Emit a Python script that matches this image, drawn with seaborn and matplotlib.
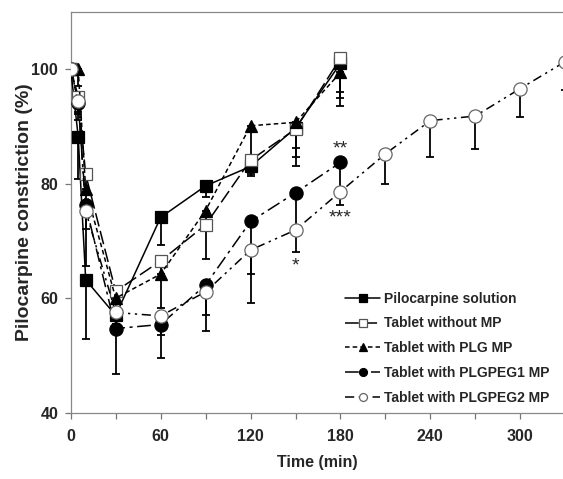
import matplotlib
matplotlib.use("Agg")
import matplotlib.pyplot as plt
import seaborn as sns
import numpy as np
import pandas as pd

# time points (min)
t_short = [0, 5, 10, 30, 60, 90, 120, 150, 180]
t_long = [0, 5, 10, 30, 60, 90, 120, 150, 180, 210, 240, 270, 300, 330]

# mean constriction (%) and lower error (SD)
pilo = [100, 88.2, 63.2, 57.0, 74.1, 79.6, 83.0, 89.7, 101.0]
pilo_err = [0, 7.4, 10.4, 1.5, 4.8, 1.9, 1.6, 6.6, 5.0]
no_mp = [100, 95.2, 81.6, 61.2, 66.5, 72.8, 84.1, 89.5, 101.9]
no_mp_err = [0, 3.0, 3.0, 2.0, 3.0, 6.0, 2.0, 3.3, 8.4]
plg = [100, 100, 79.0, 60.0, 64.2, 75.3, 90.1, 90.7, 99.4]
plg_err = [0, 3.0, 3.0, 2.0, 6.0, 3.0, 8.5, 6.0, 4.5]
peg1 = [100, 94.1, 76.2, 54.7, 55.4, 62.3, 73.4, 78.4, 83.7]
peg1_err = [0, 3.0, 10.5, 8.0, 5.8, 8.1, 14.3, 6.5, 5.5]
peg2 = [100, 94.5, 75.2, 57.5, 56.9, 61.1, 68.4, 71.9, 78.6, 85.2, 91.0, 91.8, 96.6, 101.3]
peg2_err = [0, 2.0, 3.2, 2.0, 3.4, 4.1, 4.1, 3.8, 2.3, 5.3, 6.4, 5.8, 4.9, 5.0]

labels = ["Pilocarpine solution", "Tablet without MP", "Tablet with PLG MP",
          "Tablet with PLGPEG1 MP", "Tablet with PLGPEG2 MP"]

sns.set_theme(style="ticks")
plt.rcParams['font.family'] = ['Liberation Sans', 'DejaVu Sans']
plt.rcParams['font.weight'] = 'bold'

fig = plt.figure(figsize=(5.63, 4.79), dpi=100)
ax = fig.add_axes([0.1256, 0.1384, 0.8744, 0.837])

series = [
    (t_short, pilo, pilo_err, labels[0], 's', 'black', 'black', '-', 9),
    (t_short, no_mp, no_mp_err, labels[1], 's', 'white', '#555555', (0, (9, 3)), 9),
    (t_short, plg, plg_err, labels[2], '^', 'black', 'black', (0, (3, 2)), 9),
    (t_short, peg1, peg1_err, labels[3], 'o', 'black', 'black', (0, (9, 3, 2, 3)), 9.5),
    (t_long, peg2, peg2_err, labels[4], 'o', 'white', '#666666', (0, (6, 3, 1.5, 3, 1.5, 3)), 9.5),
]

for t, y, err, lab, mk, fc, ec, ls, ms in series:
    ax.errorbar(t, y, yerr=[err, np.zeros(len(err))], fmt='none', ecolor='black',
                elinewidth=1.3, capsize=3, capthick=1.3, zorder=2)
    df = pd.DataFrame({'time': t, 'value': y})
    sns.lineplot(data=df, x='time', y='value', ax=ax, color='black', linestyle=ls,
                 linewidth=1.1, marker=mk, markersize=ms, markerfacecolor=fc,
                 markeredgecolor=ec, markeredgewidth=0.9, label=lab, zorder=3)

# significance marks
ax.text(180, 86.0, '**', ha='center', va='center', fontsize=14, fontweight='normal')
ax.text(180, 74.0, '***', ha='center', va='center', fontsize=14, fontweight='normal')
ax.text(150, 65.6, '*', ha='center', va='center', fontsize=14, fontweight='normal')

ax.set_xlim(0, 328.5)
ax.set_ylim(40, 110)
ax.set_xticks([0, 60, 120, 180, 240, 300])
ax.set_xticks([30, 90, 150, 210, 270], minor=True)
ax.set_yticks([40, 60, 80, 100])
ax.tick_params(axis='both', which='both', direction='out', length=4, width=0.9,
               color='#777777', labelsize=11.5)
ax.tick_params(axis='x', pad=8)
ax.tick_params(axis='y', pad=5)
for lab in ax.get_xticklabels() + ax.get_yticklabels():
    lab.set_fontweight('bold')

for side in ['left', 'bottom', 'top']:
    ax.spines[side].set_color('#888888')
    ax.spines[side].set_linewidth(0.9)
ax.spines['right'].set_visible(False)

ax.set_xlabel('Time (min)', fontsize=11.5, fontweight='bold', labelpad=8)
ax.set_ylabel('Pilocarpine constriction (%)', fontsize=14, fontweight='bold')
ax.yaxis.set_label_coords(-0.077, 0.5)

leg = ax.legend(loc='upper left', bbox_to_anchor=(0.558, 0.302), frameon=False,
                fontsize=10, handlelength=2.5, handletextpad=0.3, labelspacing=0.78,
                borderpad=0, borderaxespad=0, markerscale=0.6)
for txt in leg.get_texts():
    txt.set_fontweight('bold')

fig.savefig('out.png', dpi=100)
